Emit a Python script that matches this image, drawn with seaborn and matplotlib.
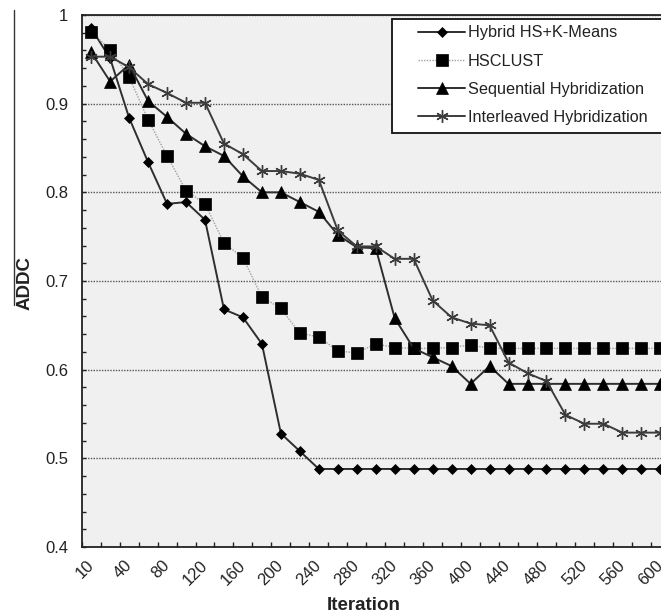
import numpy as np
import pandas as pd
import matplotlib
matplotlib.use("Agg")
import matplotlib.pyplot as plt
from matplotlib.patches import Rectangle
from matplotlib.lines import Line2D
from matplotlib.ticker import MultipleLocator, FuncFormatter
import seaborn as sns

# ---------------- data ----------------
iterations = [10, 20, 40, 60, 80, 100, 120, 140, 160, 180, 200, 220, 240, 260, 280,
              300, 320, 340, 360, 380, 400, 420, 440, 460, 480, 500, 520, 540, 560, 580, 600]

hybrid_hs_kmeans = [0.985, 0.951, 0.884, 0.834, 0.787, 0.789, 0.769, 0.668, 0.659, 0.629,
                    0.528, 0.508, 0.488, 0.488, 0.488, 0.488, 0.488, 0.488, 0.488, 0.488,
                    0.488, 0.488, 0.488, 0.488, 0.488, 0.488, 0.488, 0.488, 0.488, 0.488, 0.488]

hsclust = [0.981, 0.961, 0.930, 0.882, 0.841, 0.802, 0.787, 0.743, 0.726, 0.682,
           0.669, 0.641, 0.637, 0.621, 0.619, 0.629, 0.625, 0.624, 0.624, 0.625,
           0.628, 0.624, 0.624, 0.624, 0.624, 0.624, 0.624, 0.624, 0.624, 0.624, 0.624]

sequential = [0.958, 0.925, 0.944, 0.903, 0.885, 0.866, 0.852, 0.841, 0.818, 0.800,
              0.800, 0.789, 0.778, 0.752, 0.738, 0.737, 0.658, 0.624, 0.614, 0.604,
              0.584, 0.604, 0.584, 0.584, 0.584, 0.584, 0.584, 0.584, 0.584, 0.584, 0.584]

interleaved = [0.953, 0.953, 0.941, 0.922, 0.912, 0.901, 0.901, 0.855, 0.843, 0.824,
               0.824, 0.821, 0.814, 0.757, 0.739, 0.739, 0.725, 0.725, 0.678, 0.659,
               0.652, 0.650, 0.608, 0.596, 0.587, 0.549, 0.539, 0.539, 0.529, 0.529, 0.529]

series_names = ["Hybrid HS+K-Means", "HSCLUST", "Sequential Hybridization",
                "Interleaved Hybridization"]
x_label = "Iteration"
y_label = "ADDC"

# ---------------- style ----------------
sns.set_style("ticks")
plt.rcParams["font.family"] = ["Liberation Sans", "DejaVu Sans"]

W, H = 661, 615
fig = plt.figure(figsize=(W / 100, H / 100), dpi=100)
L, R, B, T = 81.7, 669.8, 547, 15
ax = fig.add_axes([L / W, 1 - B / H, (R - L) / W, (B - T) / H])
ax.set_facecolor("#f0f0f0")

pos = np.arange(len(iterations))
df = pd.DataFrame({"pos": pos, series_names[0]: hybrid_hs_kmeans, series_names[1]: hsclust,
                   series_names[2]: sequential, series_names[3]: interleaved})

styles = [
    dict(color="#2e2e2e", linestyle="-", linewidth=1.4, marker="D", markersize=5.4,
         markerfacecolor="black", markeredgecolor="black", markeredgewidth=0.5),
    dict(color="#a0a0a0", linestyle=(0, (1, 1)), linewidth=1.0, marker="s", markersize=8,
         markerfacecolor="black", markeredgecolor="black", markeredgewidth=0.5),
    dict(color="#2e2e2e", linestyle="-", linewidth=1.4, marker="^", markersize=8.3,
         markerfacecolor="black", markeredgecolor="black", markeredgewidth=0.5),
    dict(color="#3c3c3c", linestyle="-", linewidth=1.4, marker=(6, 2, 0), markersize=9,
         markerfacecolor="none", markeredgecolor="#3c3c3c", markeredgewidth=1.0),
]

for name, st in zip(series_names, styles):
    sns.lineplot(data=df, x="pos", y=name, ax=ax, label=name, **st)

# ---------------- axes ----------------
ax.set_xlim(-0.5, len(iterations) - 0.5)
ax.set_ylim(0.4, 1.0)

ax.set_xticks(pos[::2])
ax.set_xticklabels([str(v) for v in iterations[::2]], rotation=45, ha="right",
                   va="center", rotation_mode="anchor")
ax.set_xticks(np.arange(-0.5, len(iterations)), minor=True)
ax.tick_params(axis="x", which="major", length=0, direction="in", pad=11.5,
               labelsize=12, labelcolor="#222222")
ax.tick_params(axis="x", which="minor", direction="in", length=3.4, width=1.0,
               color="#222222")

ax.yaxis.set_major_locator(MultipleLocator(0.1))
ax.yaxis.set_minor_locator(MultipleLocator(0.02))
ax.yaxis.set_major_formatter(FuncFormatter(lambda v, p: f"{v:g}"))
ax.tick_params(axis="y", which="both", direction="in", length=3.2, width=1.0,
               color="#222222")
ax.tick_params(axis="y", which="major", pad=9.6, labelsize=12, labelcolor="#222222")

ax.yaxis.grid(True, which="major", color="#555555", linestyle=(0, (1, 1)), linewidth=1.0)
ax.xaxis.grid(False)

for s in ax.spines.values():
    s.set_color("#222222")
    s.set_linewidth(1.3)

ax.set_xlabel(x_label, fontsize=13.5, fontweight="bold", color="#222222", va="center")
ax.xaxis.set_label_coords((364 - L) / (R - L), -(605 - B) / (B - T))
ax.set_ylabel(y_label, fontsize=13.5, fontweight="bold", color="#222222", va="center")
ax.yaxis.set_label_coords((25 - L) / (R - L), (B - 283) / (B - T))

# ---------------- legend ----------------
handles, labels = ax.get_legend_handles_labels()
ax.add_patch(Rectangle((392 / W, 1 - 133 / H), (680 - 392) / W, (133 - 19) / H,
                       transform=fig.transFigure, facecolor="white", edgecolor="#111111",
                       linewidth=1.3, zorder=4, clip_on=False))
leg = ax.legend(handles, labels, loc="upper left", bbox_to_anchor=(418 / W, 1 - 25.5 / H),
                bbox_transform=fig.transFigure, frameon=False, borderpad=0,
                borderaxespad=0, handlelength=2.9, handletextpad=0.15,
                labelspacing=0.81, fontsize=11.7)
leg.set_zorder(5)
for t in leg.get_texts():
    t.set_color("#222222")

# stray vertical rule at far left of the original
fig.add_artist(Line2D([14 / W, 14 / W], [1 - 10 / H, 1 - 305 / H], color="#333333",
                      linewidth=1.0))

fig.savefig("out.png", dpi=100)
